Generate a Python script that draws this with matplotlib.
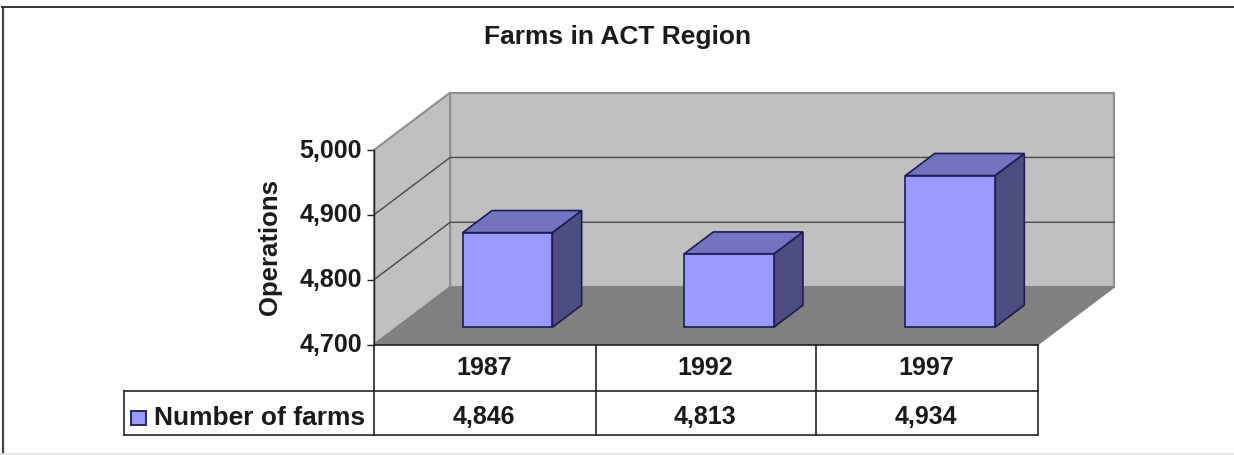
import matplotlib
matplotlib.use("Agg")
import matplotlib.pyplot as plt
from matplotlib.patches import Polygon, Rectangle
from matplotlib.lines import Line2D
from matplotlib.transforms import ScaledTranslation

plt.rcParams['font.family'] = ['Liberation Sans', 'DejaVu Sans']

TITLE = "Farms in ACT Region"
YLABEL = "Operations"
SERIES_NAME = "Number of farms"
years = ["1987", "1992", "1997"]
farms = [4846, 4813, 4934]
y_ticks = [4700, 4800, 4900, 5000]

W, H = 1234, 455
Y0, Y1 = 4700, 5000

# depth of the fake 3d box, in data units
DEPTH_X = 0.344
DEPTH_Y = 88.5
BAR_W = 0.405
BAR_D0 = 0.30
BAR_D1 = 0.685


def proj(x, y, d=0.0):
    return (x + DEPTH_X * d, y + DEPTH_Y * d)


def main():
    fig = plt.figure(figsize=(W / 100, H / 100), dpi=100)
    left, right, top, bottom = 374, 1038, 150, 344.5
    ax = fig.add_axes([left / W, 1 - bottom / H, (right - left) / W, (bottom - top) / H])
    ax.set_xlim(-0.5, 2.5)
    ax.set_ylim(Y0, Y1)
    ax.patch.set_visible(False)
    for s in ax.spines.values():
        s.set_visible(False)

    xl, xr = -0.5, 2.5
    grey_edge = "#8e8e8e"

    # walls and floor
    wall = [proj(xl, Y0, 1), proj(xr, Y0, 1), proj(xr, Y1, 1), proj(xl, Y1, 1)]
    side = [proj(xl, Y0, 0), proj(xl, Y0, 1), proj(xl, Y1, 1), proj(xl, Y1, 0)]
    floor = [proj(xl, Y0, 0), proj(xr, Y0, 0), proj(xr, Y0, 1), proj(xl, Y0, 1)]
    ax.add_patch(Polygon(wall, fc="#c0c0c0", ec=grey_edge, lw=1.5, clip_on=False, zorder=1))
    ax.add_patch(Polygon(side, fc="#c0c0c0", ec=grey_edge, lw=1.5, clip_on=False, zorder=1))
    ax.add_patch(Polygon(floor, fc="#808080", ec="#808080", lw=1, clip_on=False, zorder=2))

    # gridlines on the walls
    for t in y_ticks[1:-1]:
        pts = [proj(xl, t, 0), proj(xl, t, 1), proj(xr, t, 1)]
        ax.plot([p[0] for p in pts], [p[1] for p in pts], color="#484848", lw=1,
                clip_on=False, zorder=1.5)

    # bars
    for i, v in enumerate(farms):
        a, b = i - BAR_W / 2, i + BAR_W / 2
        edge = "#1c1c50"
        top_face = [proj(a, v, BAR_D0), proj(b, v, BAR_D0), proj(b, v, BAR_D1), proj(a, v, BAR_D1)]
        right_face = [proj(b, Y0, BAR_D0), proj(b, Y0, BAR_D1), proj(b, v, BAR_D1), proj(b, v, BAR_D0)]
        front = [proj(a, Y0, BAR_D0), proj(b, Y0, BAR_D0), proj(b, v, BAR_D0), proj(a, v, BAR_D0)]
        ax.add_patch(Polygon(right_face, fc="#4d4d80", ec=edge, lw=1.2, clip_on=False, zorder=3))
        ax.add_patch(Polygon(top_face, fc="#7373bf", ec=edge, lw=1.2, clip_on=False, zorder=3))
        ax.add_patch(Polygon(front, fc="#9999ff", ec=edge, lw=1.2, clip_on=False, zorder=4))

    # y axis
    ax.set_yticks(y_ticks)
    ax.set_yticklabels([f"{t:,}" for t in y_ticks], fontsize=18, fontweight="bold", color="#1a1a1a")
    ax.tick_params(axis="y", length=5, width=1, color="#222222", pad=3.5)
    nudge = ScaledTranslation(0, 2 / 100, fig.dpi_scale_trans)
    for lab in ax.get_yticklabels():
        lab.set_transform(lab.get_transform() + nudge)
    ax.set_xticks([])
    ax.set_ylabel(YLABEL, fontsize=18.5, fontweight="bold", color="#1a1a1a", labelpad=13)
    ax.plot([xl, xl], [Y0, Y1], color="#222222", lw=1, clip_on=False, zorder=2)

    # table under the plot, drawn on a figure-wide overlay in pixels
    ov = fig.add_axes([0, 0, 1, 1])
    ov.set_xlim(0, W)
    ov.set_ylim(H, 0)
    ov.axis("off")
    ov.patch.set_visible(False)

    col_x = [374, 596, 816, 1038]
    row_y = [345, 391, 434.5]
    c = "#222222"
    ov.plot([374, 1038], [row_y[0], row_y[0]], color=c, lw=1.2)
    ov.plot([124, 1038], [row_y[1], row_y[1]], color=c, lw=1.2)
    ov.plot([124, 1038], [row_y[2], row_y[2]], color=c, lw=1.2)
    ov.plot([124, 124], [row_y[1], row_y[2]], color=c, lw=1.2)
    for x in col_x:
        ov.plot([x, x], [row_y[0], row_y[2]], color=c, lw=1.2)
    for i, (yr, v) in enumerate(zip(years, farms)):
        cx = (col_x[i] + col_x[i + 1]) / 2
        ov.text(cx - 1, 368, yr, ha="center", va="center", fontsize=18, fontweight="bold", color="#1a1a1a")
        ov.text(cx - 1, 417, f"{v:,}", ha="center", va="center", fontsize=18, fontweight="bold", color="#1a1a1a")
    ov.add_patch(Rectangle((131, 410.5), 15, 14, fc="#9999ff", ec="#2a2a50", lw=1.4))
    ov.text(154, 418, SERIES_NAME, ha="left", va="center", fontsize=19, fontweight="bold", color="#1a1a1a")

    # title and outer frame
    ov.text(618, 37, TITLE, ha="center", va="center", fontsize=19, fontweight="bold", color="#1a1a1a")
    ov.add_line(Line2D([2.5, 2.5], [7, 453], color="#444444", lw=1.6))
    ov.add_line(Line2D([2, W], [7, 7], color="#333333", lw=1.4))
    ov.add_line(Line2D([0, W], [454, 454], color="#e2e2e2", lw=1.2))

    fig.savefig("out.png", dpi=100)


if __name__ == "__main__":
    main()
